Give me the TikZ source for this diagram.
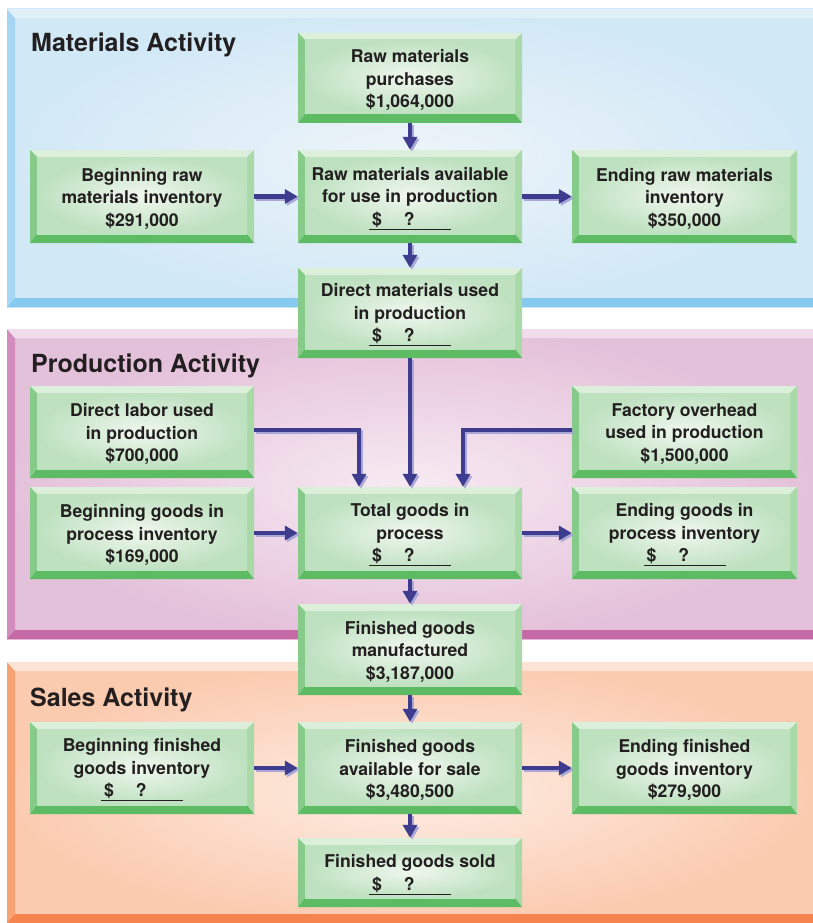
\documentclass[tikz,border=0pt]{standalone}
\usepackage{fontspec}
\setmainfont{TeX Gyre Heros}
\usetikzlibrary{arrows.meta}
\definecolor{txt}{HTML}{231F20}
\definecolor{gtop}{HTML}{DCEFDB}
\definecolor{gleft}{HTML}{86CB8A}
\definecolor{gright}{HTML}{A9D9A8}
\definecolor{gbot}{HTML}{5DBB63}
\definecolor{ginner}{HTML}{F0F7EE}
\definecolor{gouter}{HTML}{BEE1C0}
\definecolor{arrowc}{HTML}{3E3C8E}
\definecolor{arrowsh}{HTML}{A9A7D8}
% panels
\definecolor{mOut}{HTML}{D1E8F6}\definecolor{mIn}{HTML}{EEF4F9}
\definecolor{mL}{HTML}{A5D6F3}\definecolor{mT}{HTML}{E1EFF9}\definecolor{mB}{HTML}{86CBEF}
\definecolor{pOut}{HTML}{E4C1DA}\definecolor{pIn}{HTML}{F7EAF2}
\definecolor{pL}{HTML}{D28DBD}\definecolor{pT}{HTML}{F0DCEA}\definecolor{pB}{HTML}{C56AA6}
\definecolor{sOut}{HTML}{FBCBB0}\definecolor{sIn}{HTML}{FDEDE4}
\definecolor{sL}{HTML}{F8A172}\definecolor{sT}{HTML}{FDE3D5}\definecolor{sB}{HTML}{F5844E}
\tikzset{
  boxtext/.style={inner sep=0pt, align=center, text=txt,
    font=\fontsize{17.6}{22.5}\selectfont\bfseries},
  titletext/.style={inner sep=0pt, anchor=base west, text=txt,
    font=\fontsize{25}{30}\selectfont\bfseries},
  flow/.style={line width=4.5pt, draw=arrowc,
    -{Triangle[width=14pt,length=13pt]}},
  flowsh/.style={flow, draw=arrowsh, transform canvas={shift={(2pt,-2pt)}}}
}
\newcommand\panelbg[7]{%
  \shade[inner color=#4, outer color=#3] (7,#1) rectangle (813,#2);
  \fill[#5] (7,#1) -- (15,#1+9) -- (15,#2-9) -- (7,#2) -- cycle;
  \fill[#6] (7,#1) -- (813,#1) -- (813,#1+9) -- (15,#1+9) -- cycle;
  \fill[#7] (7,#2) -- (15,#2-9) -- (813,#2-9) -- (813,#2) -- cycle;
}
\newcommand\gbox[6]{%
  \fill[gouter] (#2,#3) rectangle (#4,#5);
  \fill[gtop] (#2,#3) -- (#4,#3) -- (#4-7,#3+7) -- (#2+7,#3+7) -- cycle;
  \fill[gleft] (#2,#3) -- (#2+7,#3+7) -- (#2+7,#5-9) -- (#2,#5) -- cycle;
  \fill[gright] (#4,#3) -- (#4,#5) -- (#4-7,#5-9) -- (#4-7,#3+7) -- cycle;
  \fill[gbot] (#2,#5) -- (#2+7,#5-9) -- (#4-7,#5-9) -- (#4,#5) -- cycle;
  \shade[inner color=ginner, outer color=gouter] (#2+7,#3+7) rectangle (#4-7,#5-9);
  \node[minimum width={#4-#2}, minimum height={#5-#3}, inner sep=0pt] (#1)
    at ({(#2+#4)/2},{(#3+#5)/2}) {};
  \node[boxtext] (#1-t) at ([yshift=-2pt]#1.center) {#6};
}
\newcommand\qm{\underline{\makebox[82pt][l]{\hspace{3pt}\$\hspace{22pt}?}}}
\newcommand\flowarrow[1]{\draw[flowsh] #1; \draw[flow] #1;}
\begin{document}
\begin{tikzpicture}[x=1pt,y=-1pt]
\useasboundingbox (0,0) rectangle (813,923);
\fill[white] (0,0) rectangle (813,923);
\panelbg{9}{307}{mOut}{mIn}{mL}{mT}{mB}
\panelbg{329}{639}{pOut}{pIn}{pL}{pT}{pB}
\panelbg{662}{923}{sOut}{sIn}{sL}{sT}{sB}
\node[titletext] (t1) at (31,52) {Materials Activity};
\node[titletext] (t2) at (31,372) {Production Activity};
\node[titletext] (t3) at (30,706) {Sales Activity};
% boxes
\gbox{b1}{298}{33}{522}{123}{Raw materials\\purchases\\\$1,064,000}
\gbox{b2}{30}{150}{254}{243}{Beginning raw\\materials inventory\\\$291,000}
\gbox{b3}{298}{150}{522}{243}{Raw materials available\\for use in production\\\qm}
\gbox{b4}{572}{150}{797}{243}{Ending raw materials\\inventory\\\$350,000}
\gbox{b5}{298}{268}{522}{358}{Direct materials used\\in production\\\qm}
\gbox{b6}{30}{386}{254}{478}{Direct labor used\\in production\\\$700,000}
\gbox{b7}{572}{386}{797}{478}{Factory overhead\\used in production\\\$1,500,000}
\gbox{b8}{30}{487}{254}{579}{Beginning goods in\\process inventory\\\$169,000}
\gbox{b9}{298}{487}{522}{579}{Total goods in\\process\\\qm}
\gbox{b10}{572}{487}{797}{579}{Ending goods in\\process inventory\\\qm}
\gbox{b11}{298}{604}{522}{695}{Finished goods\\manufactured\\\$3,187,000}
\gbox{b12}{30}{722}{254}{814}{Beginning finished\\goods inventory\\\qm}
\gbox{b13}{298}{722}{522}{814}{Finished goods\\available for sale\\\$3,480,500}
\gbox{b14}{572}{722}{797}{814}{Ending finished\\goods inventory\\\$279,900}
\gbox{b15}{298}{838}{522}{907}{Finished goods sold\\\qm}
% connectors
\flowarrow{(b1.south) -- (b3.north)}
\flowarrow{(b2.east) -- (b3.west)}
\flowarrow{(b3.east) -- (b4.west)}
\flowarrow{(b3.south) -- (b5.north)}
\flowarrow{(b5.south) -- (b9.north)}
\flowarrow{([yshift=2pt]b6.east) -| ([xshift=-51pt]b9.north)}
\flowarrow{([yshift=2pt]b7.west) -| ([xshift=53pt]b9.north)}
\flowarrow{(b8.east) -- (b9.west)}
\flowarrow{(b9.east) -- (b10.west)}
\flowarrow{(b9.south) -- (b11.north)}
\flowarrow{(b11.south) -- (b13.north)}
\flowarrow{(b12.east) -- (b13.west)}
\flowarrow{(b13.east) -- (b14.west)}
\flowarrow{(b13.south) -- (b15.north)}
\end{tikzpicture}
\end{document}
